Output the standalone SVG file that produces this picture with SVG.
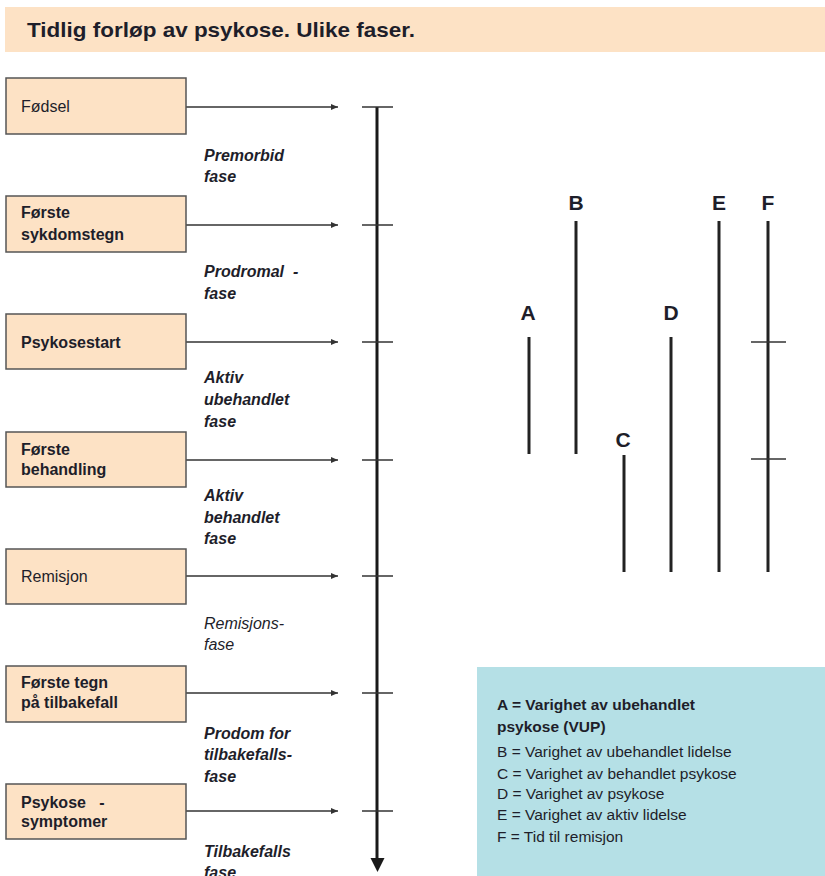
<svg xmlns="http://www.w3.org/2000/svg" width="825" height="876" viewBox="0 0 825 876">
<defs>
<marker id="ah" markerWidth="8" markerHeight="8" refX="7" refY="4" orient="auto" markerUnits="userSpaceOnUse">
<path d="M0,1 L7,4 L0,7 Z" fill="#333"/>
</marker>
<style>
.box{fill:#fde2c5;stroke:#555;stroke-width:1.5}
.bt{font-family:"Liberation Sans",Arial,sans-serif;font-size:16px;fill:#1e1e2a}
.b{font-weight:bold}
.ph{font-family:"Liberation Sans",Arial,sans-serif;font-size:16px;font-style:italic;font-weight:bold;fill:#1e1e2a}
.phn{font-weight:normal}
.conn{stroke:#333;stroke-width:1.3;fill:none}
.tick{stroke:#333;stroke-width:1.5}
.bar{stroke:#222;stroke-width:3}
.lab{font-family:"Liberation Sans",Arial,sans-serif;font-size:21px;font-weight:bold;fill:#1e1e2a;text-anchor:middle}
.lg{font-family:"Liberation Sans",Arial,sans-serif;font-size:15.5px;fill:#1e1e2a}
</style>
</defs>
<rect x="5" y="7" width="820" height="45" fill="#fde2c5"/>
<text x="27" y="37" font-family="Liberation Sans,Arial,sans-serif" font-size="21" font-weight="bold" fill="#1e1e2a" textLength="388" lengthAdjust="spacingAndGlyphs">Tidlig forløp av psykose. Ulike faser.</text>

<g id="connectors">
<line class="conn" x1="186" y1="107" x2="338" y2="107" marker-end="url(#ah)"/>
<line class="conn" x1="186" y1="225" x2="338" y2="225" marker-end="url(#ah)"/>
<line class="conn" x1="186" y1="342" x2="338" y2="342" marker-end="url(#ah)"/>
<line class="conn" x1="186" y1="460" x2="338" y2="460" marker-end="url(#ah)"/>
<line class="conn" x1="186" y1="576" x2="338" y2="576" marker-end="url(#ah)"/>
<line class="conn" x1="186" y1="693" x2="338" y2="693" marker-end="url(#ah)"/>
<line class="conn" x1="186" y1="811" x2="338" y2="811" marker-end="url(#ah)"/>
</g>

<g id="timeline">
<line x1="377" y1="107" x2="377" y2="860" stroke="#1a1a1a" stroke-width="3"/>
<path d="M370.5,858 L384.5,858 L377.5,872 Z" fill="#1a1a1a"/>
<line class="tick" x1="362" y1="107" x2="393" y2="107"/>
<line class="tick" x1="362" y1="225" x2="393" y2="225"/>
<line class="tick" x1="362" y1="342" x2="393" y2="342"/>
<line class="tick" x1="362" y1="460" x2="393" y2="460"/>
<line class="tick" x1="362" y1="576" x2="393" y2="576"/>
<line class="tick" x1="362" y1="693" x2="393" y2="693"/>
<line class="tick" x1="362" y1="811" x2="393" y2="811"/>
</g>

<g id="n-fodsel"><rect class="box" x="6" y="78" width="180" height="56"/><text class="bt" x="21" y="112">Fødsel</text></g>
<g id="n-forste-sykdomstegn"><rect class="box" x="6" y="196" width="180" height="56"/><text class="bt b" x="21" y="218">Første</text><text class="bt b" x="21" y="240">sykdomstegn</text></g>
<g id="n-psykosestart"><rect class="box" x="6" y="314" width="180" height="55"/><text class="bt b" x="21" y="348">Psykosestart</text></g>
<g id="n-forste-behandling"><rect class="box" x="6" y="432" width="180" height="55"/><text class="bt b" x="21" y="455">Første</text><text class="bt b" x="21" y="475">behandling</text></g>
<g id="n-remisjon"><rect class="box" x="6" y="549" width="180" height="55"/><text class="bt" x="21" y="582">Remisjon</text></g>
<g id="n-forste-tegn"><rect class="box" x="6" y="666" width="180" height="56"/><text class="bt b" x="21" y="688">Første tegn</text><text class="bt b" x="21" y="708">på tilbakefall</text></g>
<g id="n-psykose-symptomer"><rect class="box" x="6" y="784" width="180" height="55"/><text class="bt b" x="21" y="808" xml:space="preserve">Psykose   -</text><text class="bt b" x="21" y="827">symptomer</text></g>

<g id="phases">
<text class="ph" x="204" y="161">Premorbid</text><text class="ph" x="204" y="182">fase</text>
<text class="ph" x="204" y="277" xml:space="preserve">Prodromal  -</text><text class="ph" x="204" y="299">fase</text>
<text class="ph" x="204" y="383">Aktiv</text><text class="ph" x="204" y="405">ubehandlet</text><text class="ph" x="204" y="427">fase</text>
<text class="ph" x="204" y="501">Aktiv</text><text class="ph" x="204" y="523">behandlet</text><text class="ph" x="204" y="544">fase</text>
<text class="ph phn" x="204" y="629">Remisjons-</text><text class="ph phn" x="204" y="650">fase</text>
<text class="ph" x="204" y="739">Prodom for</text><text class="ph" x="204" y="760">tilbakefalls-</text><text class="ph" x="204" y="782">fase</text>
<text class="ph" x="204" y="857">Tilbakefalls</text><text class="ph" x="204" y="878">fase</text>
</g>

<g id="durations">
<text class="lab" x="528" y="320">A</text><line class="bar" x1="529" y1="337" x2="529" y2="454"/>
<text class="lab" x="576" y="210">B</text><line class="bar" x1="576" y1="221" x2="576" y2="454"/>
<text class="lab" x="623" y="447">C</text><line class="bar" x1="624" y1="455" x2="624" y2="572"/>
<text class="lab" x="671" y="320">D</text><line class="bar" x1="671" y1="337" x2="671" y2="572"/>
<text class="lab" x="719" y="210">E</text><line class="bar" x1="719" y1="221" x2="719" y2="572"/>
<text class="lab" x="768" y="210">F</text><line class="bar" x1="768" y1="221" x2="768" y2="572"/>
<line class="tick" x1="751" y1="342" x2="786" y2="342"/>
<line class="tick" x1="751" y1="459" x2="786" y2="459"/>
</g>

<g id="legend">
<rect x="477" y="667" width="348" height="209" fill="#b5e0e6"/>
<text class="lg b" x="497" y="710">A = Varighet av ubehandlet</text>
<text class="lg b" x="497" y="732">psykose (VUP)</text>
<text class="lg" x="497" y="757">B = Varighet av ubehandlet lidelse</text>
<text class="lg" x="497" y="779">C = Varighet av behandlet psykose</text>
<text class="lg" x="497" y="799">D = Varighet av psykose</text>
<text class="lg" x="497" y="820">E = Varighet av aktiv lidelse</text>
<text class="lg" x="497" y="842">F = Tid til remisjon</text>
</g>
</svg>
